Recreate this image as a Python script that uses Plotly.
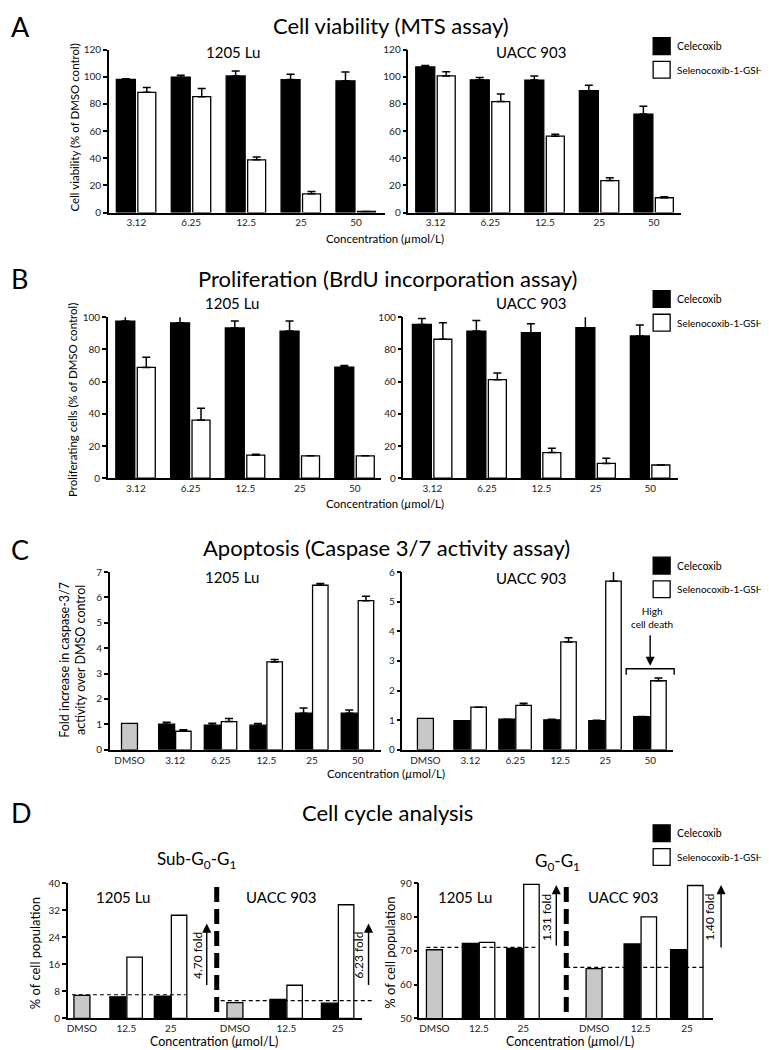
import plotly.graph_objects as go

W, H = 769, 1050
FONT = "Lato, 'Liberation Sans', Arial, sans-serif"

# ---------------- data ----------------
conc = ["3.12", "6.25", "12.5", "25", "50"]
conc_dmso = ["DMSO", "3.12", "6.25", "12.5", "25", "50"]
cc_ctrl = ["DMSO"]
cc_dose = ["12.5", "25"]
cc_cats = ["DMSO", "12.5", "25"]

# A - cell viability (% of DMSO control)
mts_lu_cel = [98.0, 99.6, 100.6, 97.9, 97.0]
mts_lu_cel_err = [0.6, 1.5, 3.6, 3.9, 6.5]
mts_lu_sel = [88.5, 85.3, 38.8, 13.8, 0.8]
mts_lu_sel_err = [3.6, 6.0, 2.0, 1.7, 0.0]
mts_ua_cel = [107.2, 97.7, 97.5, 89.7, 72.5]
mts_ua_cel_err = [1.0, 1.7, 3.1, 4.1, 5.8]
mts_ua_sel = [100.6, 81.7, 56.2, 23.5, 10.9]
mts_ua_sel_err = [3.0, 5.6, 1.5, 2.2, 0.7]

# B - proliferating cells (% of DMSO control)
brdu_lu_cel = [97.6, 96.5, 93.3, 91.4, 69.0]
brdu_lu_cel_err = [4.0, 5.0, 4.3, 6.2, 1.0]
brdu_lu_sel = [68.8, 36.1, 14.3, 13.9, 13.9]
brdu_lu_sel_err = [6.3, 7.4, 0.6, 0.0, 0.0]
brdu_ua_cel = [95.5, 91.4, 90.4, 93.5, 88.4]
brdu_ua_cel_err = [3.7, 6.6, 5.5, 8.1, 6.7]
brdu_ua_sel = [86.3, 61.2, 15.9, 9.2, 8.2]
brdu_ua_sel_err = [10.2, 4.1, 2.7, 3.2, 0.0]

# C - fold increase in caspase-3/7 activity
casp_lu_dmso = [1.04]
casp_lu_cel = [1.01, 0.97, 0.97, 1.44, 1.44]
casp_lu_cel_err = [0.07, 0.08, 0.07, 0.21, 0.13]
casp_lu_sel = [0.73, 1.11, 3.46, 6.48, 5.87]
casp_lu_sel_err = [0.06, 0.12, 0.10, 0.07, 0.18]
casp_ua_dmso = [1.06]
casp_ua_cel = [0.98, 1.03, 1.01, 0.98, 1.12]
casp_ua_cel_err = [0.0, 0.0, 0.02, 0.02, 0.0]
casp_ua_sel = [1.44, 1.50, 3.64, 5.69, 2.33]
casp_ua_sel_err = [0.0, 0.07, 0.14, 0.57, 0.09]

# D - cell cycle (% of cell population)
subg_lu_dmso = [6.8]
subg_lu_cel = [6.4, 6.6]
subg_lu_sel = [18.1, 30.5]
subg_ua_dmso = [4.7]
subg_ua_cel = [5.6, 4.5]
subg_ua_sel = [9.8, 33.6]
subg_base = [7.0, 5.26]
subg_fold = ["4.70 fold", "6.23 fold"]

g0_lu_dmso = [70.3]
g0_lu_cel = [72.2, 70.7]
g0_lu_sel = [72.5, 89.6]
g0_ua_dmso = [64.7]
g0_ua_cel = [72.0, 70.3]
g0_ua_sel = [80.0, 89.3]
g0_base = [71.0, 65.1]
g0_fold = ["1.31 fold", "1.40 fold"]

# ---------------- helpers ----------------
fig = go.Figure()
axes = {}
annotations = []
shapes = []


def fx(p):
    return p / W


def fy(p):
    return 1 - p / H


def add_xaxis(n, x0, x1, anchor, rng):
    axes["xaxis" + ("" if n == 1 else str(n))] = dict(
        domain=[fx(x0), fx(x1)], anchor=anchor, range=rng, type="category",
        showline=True, linecolor="black", linewidth=1.5, ticks="",
        showgrid=False, zeroline=False, fixedrange=True,
        tickfont=dict(size=10, color="#222"))
    return (x1 - x0) / (rng[1] - rng[0])


def add_yaxis(n, y0, y1, anchor, rng, dtick):
    axes["yaxis" + ("" if n == 1 else str(n))] = dict(
        domain=[fy(y1), fy(y0)], anchor=anchor, range=rng, dtick=dtick,
        showline=True, linecolor="black", linewidth=1.5, ticks="outside",
        ticklen=4, tickwidth=1.5, tickcolor="black", showgrid=False,
        zeroline=False, fixedrange=True, tickfont=dict(size=10, color="#222"))


def bar(xa, ya, x, y, color, name, spacing, off_px, w_px, err=None):
    kw = {}
    if err is not None:
        kw["error_y"] = dict(type="data", symmetric=False, array=err,
                             arrayminus=[0] * len(err), color="black",
                             thickness=1.5, width=4)
    fig.add_trace(go.Bar(
        x=x, y=y, xaxis=xa, yaxis=ya, name=name, cliponaxis=False,
        width=w_px / spacing, offset=off_px / spacing,
        marker=dict(color=color, line=dict(color="black", width=1.3)),
        **kw))


def text(x, y, s, size, xanchor="center", angle=0):
    annotations.append(dict(
        x=fx(x), y=fy(y), xref="paper", yref="paper", text=s,
        showarrow=False, xanchor=xanchor, yanchor="middle", textangle=angle,
        font=dict(size=size, color="black")))


def arrow(x, y_tip, y_tail):
    annotations.append(dict(
        x=fx(x), y=fy(y_tip), xref="paper", yref="paper", text="",
        showarrow=True, ax=0, ay=y_tail - y_tip, arrowhead=2, arrowsize=1.3,
        arrowwidth=1.4, arrowcolor="black"))


def legend(top):
    shapes.append(dict(type="rect", xref="paper", yref="paper",
                       x0=fx(645), x1=fx(662), y0=fy(top), y1=fy(top + 17),
                       fillcolor="black", line=dict(color="black", width=1.3)))
    shapes.append(dict(type="rect", xref="paper", yref="paper",
                       x0=fx(645), x1=fx(662), y0=fy(top + 24), y1=fy(top + 41),
                       fillcolor="white", line=dict(color="black", width=1.3)))
    text(667, top + 8.5, "Celecoxib", 10.5, "left")
    text(667, top + 32.5, "Selenocoxib-1-GSH", 10, "left")


def hline(ya, yval, x0, x1):
    shapes.append(dict(type="line", xref="paper", yref=ya, x0=fx(x0), x1=fx(x1),
                       y0=yval, y1=yval, line=dict(color="black", width=1.2, dash="4px,3px")))


def divider(x, y0, y1):
    shapes.append(dict(type="line", xref="paper", yref="paper", x0=fx(x), x1=fx(x),
                       y0=fy(y0), y1=fy(y1), line=dict(color="black", width=5, dash="15px,7px")))


conc_title = "Concentration (<i>µ</i>mol/L)"

# ---------------- A ----------------
s = add_xaxis(1, 100, 376, "y", [-0.5, 4.52])
add_yaxis(1, 35, 200, "x", [0, 120], 20)
bar("x", "y", conc, mts_lu_cel, "black", "Celecoxib", s, -20, 19, mts_lu_cel_err)
bar("x", "y", conc, mts_lu_sel, "white", "Selenocoxib-1-GSH", s, 1.5, 18, mts_lu_sel_err)
s = add_xaxis(2, 400, 673, "y2", [-0.5, 4.5])
add_yaxis(2, 35, 200, "x2", [0, 120], 20)
bar("x2", "y2", conc, mts_ua_cel, "black", "Celecoxib", s, -20, 19, mts_ua_cel_err)
bar("x2", "y2", conc, mts_ua_sel, "white", "Selenocoxib-1-GSH", s, 1.5, 18, mts_ua_sel_err)

text(0, 12, "A", 27, "left")
text(382, 11, "Cell viability (MTS assay)", 22)
text(224, 37, "1205 Lu", 15)
text(523, 37, "UACC 903", 15)
text(66, 114, "Cell viability (% of DMSO control)", 11.5, angle=-90)
text(376, 226, conc_title, 11.5)
legend(23)

# ---------------- B ----------------
s = add_xaxis(3, 99, 372, "y3", [-0.51, 4.47])
add_yaxis(3, 306, 469, "x3", [0, 100], 20)
bar("x3", "y3", conc, brdu_lu_cel, "black", "Celecoxib", s, -20, 19, brdu_lu_cel_err)
bar("x3", "y3", conc, brdu_lu_sel, "white", "Selenocoxib-1-GSH", s, 1.5, 18, brdu_lu_sel_err)
s = add_xaxis(4, 395, 670, "y4", [-0.53, 4.51])
add_yaxis(4, 306, 469, "x4", [0, 100], 20)
bar("x4", "y4", conc, brdu_ua_cel, "black", "Celecoxib", s, -20, 19, brdu_ua_cel_err)
bar("x4", "y4", conc, brdu_ua_sel, "white", "Selenocoxib-1-GSH", s, 1.5, 18, brdu_ua_sel_err)

text(0, 267, "B", 27, "left")
text(379, 267, "Proliferation (BrdU incorporation assay)", 22)
text(223, 292, "1205 Lu", 15)
text(523, 292, "UACC 903", 15)
text(63, 390, "Proliferating cells (% of DMSO control)", 11.5, angle=-90)
text(376, 495, conc_title, 11.5)
legend(279)

# ---------------- C ----------------
s = add_xaxis(5, 101, 372, "y5", [-0.43, 5.5])
add_yaxis(5, 564, 744, "x5", [0, 7], 1)
bar("x5", "y5", cc_ctrl, casp_lu_dmso, "#c8c8c8", "DMSO", s, -8, 16)
bar("x5", "y5", conc, casp_lu_cel, "black", "Celecoxib", s, -16.5, 16, casp_lu_cel_err)
bar("x5", "y5", conc, casp_lu_sel, "white", "Selenocoxib-1-GSH", s, 0.5, 15.5, casp_lu_sel_err)
s = add_xaxis(6, 394, 665, "y6", [-0.51, 5.51])
add_yaxis(6, 564, 744, "x6", [0, 6], 1)
bar("x6", "y6", cc_ctrl, casp_ua_dmso, "#c8c8c8", "DMSO", s, -8, 16)
bar("x6", "y6", conc, casp_ua_cel, "black", "Celecoxib", s, -16.5, 16, casp_ua_cel_err)
bar("x6", "y6", conc, casp_ua_sel, "white", "Selenocoxib-1-GSH", s, 0.5, 15.5, casp_ua_sel_err)

text(0, 541, "C", 27, "left")
text(378, 539, "Apoptosis (Caspase 3/7 activity assay)", 22)
text(223, 569, "1205 Lu", 15)
text(523, 570, "UACC 903", 15)
text(64, 653, "Fold increase in caspase-3/7<br>activity over DMSO control", 12.5, angle=-90)
text(377, 768, conc_title, 11.5)
text(644, 610, "High<br>cell death", 10)
arrow(642, 659, 627)
shapes.append(dict(type="path", xref="paper", yref="paper", line=dict(color="black", width=1.4),
                   path=f"M {fx(618)},{fy(668)} L {fx(618)},{fy(662)} L {fx(666)},{fy(662)} L {fx(666)},{fy(668)}"))
legend(549)

# ---------------- D ----------------
# Sub-G0-G1: left half 1205 Lu, right half UACC 903
s = add_xaxis(7, 59, 207, "y7", [-0.315, 3.01])
add_yaxis(7, 879, 1016, "x7", [0, 40], 8)
bar("x7", "y7", cc_ctrl, subg_lu_dmso, "#c8c8c8", "DMSO", s, -8, 16)
bar("x7", "y7", cc_dose, subg_lu_cel, "black", "Celecoxib", s, -16.5, 16)
bar("x7", "y7", cc_dose, subg_lu_sel, "white", "Selenocoxib-1-GSH", s, 0.5, 15.5)
s = add_xaxis(8, 207, 353, "y7", [-0.373, 2.46])
bar("x8", "y7", cc_ctrl, subg_ua_dmso, "#c8c8c8", "DMSO", s, -8, 16)
bar("x8", "y7", cc_dose, subg_ua_cel, "black", "Celecoxib", s, -16.5, 16)
bar("x8", "y7", cc_dose, subg_ua_sel, "white", "Selenocoxib-1-GSH", s, 0.5, 15.5)
hline("y7", subg_base[0], 63, 177)
hline("y7", subg_base[1], 212, 365)
divider(208, 883, 1011)

# G0-G1
s = add_xaxis(9, 411, 558, "y8", [-0.337, 2.97])
add_yaxis(8, 879, 1016, "x9", [50, 90], 10)
bar("x9", "y8", cc_ctrl, g0_lu_dmso, "#c8c8c8", "DMSO", s, -8, 16)
bar("x9", "y8", cc_dose, g0_lu_cel, "black", "Celecoxib", s, -16.5, 16)
bar("x9", "y8", cc_dose, g0_lu_sel, "white", "Selenocoxib-1-GSH", s, 0.5, 15.5)
s = add_xaxis(10, 558, 705, "y8", [-0.598, 2.56])
bar("x10", "y8", cc_ctrl, g0_ua_dmso, "#c8c8c8", "DMSO", s, -8, 16)
bar("x10", "y8", cc_dose, g0_ua_cel, "black", "Celecoxib", s, -16.5, 16)
bar("x10", "y8", cc_dose, g0_ua_sel, "white", "Selenocoxib-1-GSH", s, 0.5, 15.5)
hline("y8", g0_base[0], 418, 527)
hline("y8", g0_base[1], 558, 697)
divider(558, 883, 1013)

text(0, 807, "D", 27, "left")
text(379, 808, "Cell cycle analysis", 22)
text(188, 856, "Sub-G<sub>0</sub>-G<sub>1</sub>", 17)
text(549, 858, "G<sub>0</sub>-G<sub>1</sub>", 17)
text(114, 893, "1205 Lu", 15)
text(272, 893, "UACC 903", 15)
text(457, 893, "1205 Lu", 15)
text(615, 893, "UACC 903", 15)
text(26, 950, "% of cell population", 13, angle=-90)
text(382, 950, "% of cell population", 13, angle=-90)
text(205, 1039, conc_title, 12.5)
text(562, 1039, conc_title, 12.5)
arrow(198, 920, 983)
arrow(360, 920, 983)
text(188, 952, subg_fold[0], 12, angle=-90)
text(350, 952, subg_fold[1], 12, angle=-90)
arrow(548, 881, 943)
arrow(713, 881, 945)
text(538, 914, g0_fold[0], 12, angle=-90)
text(702, 914, g0_fold[1], 12, angle=-90)
legend(820)

fig.update_layout(
    width=W, height=H, margin=dict(l=0, r=0, t=0, b=0),
    paper_bgcolor="white", plot_bgcolor="white",
    font=dict(family=FONT, color="black"),
    barmode="overlay", showlegend=False,
    annotations=annotations, shapes=shapes,
    **axes)

fig.write_html("out.html")
